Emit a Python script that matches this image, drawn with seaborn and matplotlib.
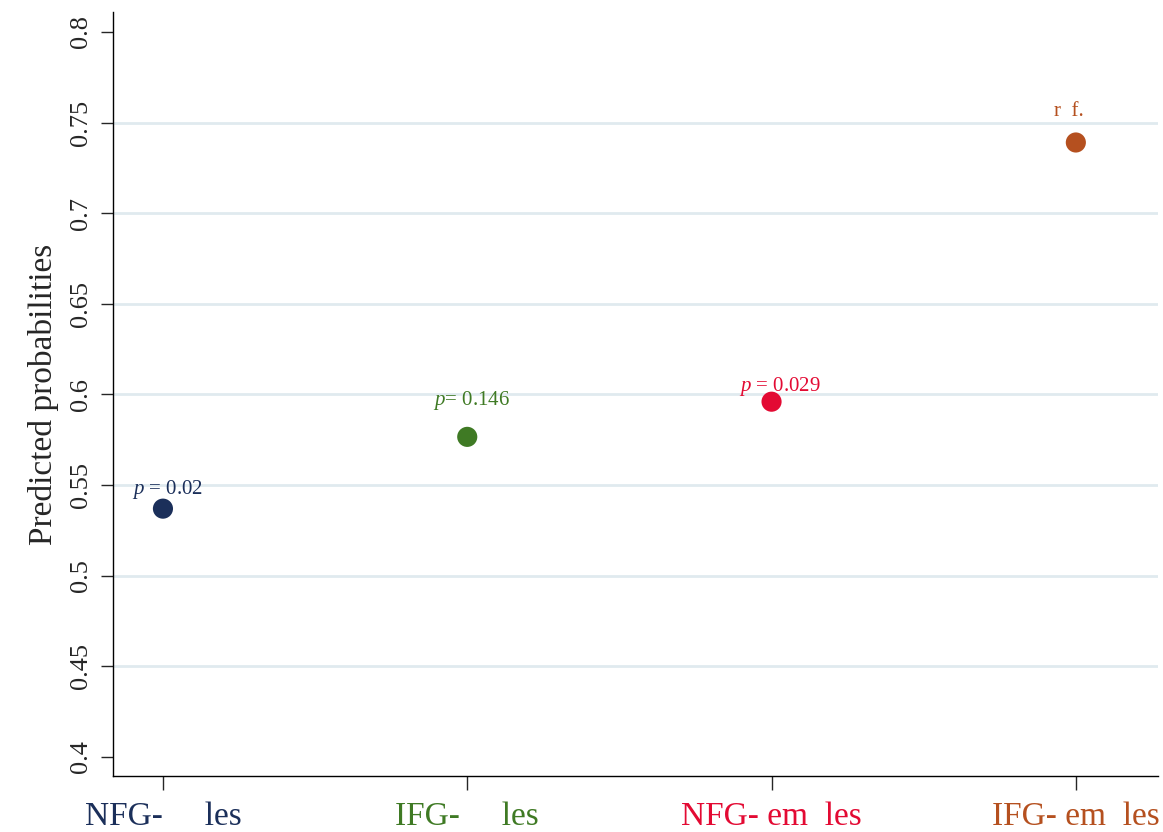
import matplotlib
matplotlib.use("Agg")
import matplotlib.pyplot as plt
import seaborn as sns
import pandas as pd

# data
groups = ["NFG-     les", "IFG-     les", "NFG- em  les", "IFG- em  les"]
probs = [0.537, 0.5766, 0.596, 0.739]
colors = ["#1b2f5a", "#3f7a24", "#e30a33", "#b5501f"]
notes = ["$p$ = 0.02", "$p$= 0.146", "$p$ = 0.029", "r  f."]
note_offsets = [(3, 14), (3, 26), (6, 11), (-5, 22)]
yticks = [0.4, 0.45, 0.5, 0.55, 0.6, 0.65, 0.7, 0.75, 0.8]
grid_vals = [0.45, 0.5, 0.55, 0.6, 0.65, 0.7, 0.75]

sns.set_style("white")
plt.rcParams["font.family"] = ["Liberation Serif", "DejaVu Serif"]
plt.rcParams["mathtext.fontset"] = "custom"
plt.rcParams["mathtext.it"] = "Liberation Serif:italic"

df = pd.DataFrame({"group": groups, "prob": probs})

fig = plt.figure(figsize=(11.63, 8.32), dpi=100)
ax = fig.add_axes([0.0972, 0.0673, 0.8985, 0.9183])

for g in grid_vals:
    ax.axhline(g, color="#e0eaef", lw=2, zorder=0)

sns.scatterplot(data=df, x="group", y="prob", hue="group", palette=colors,
                s=210, edgecolor=None, linewidth=0, legend=False, ax=ax, zorder=3)

for i, (p, txt) in enumerate(zip(probs, notes)):
    ax.annotate(txt, (i, p), xytext=note_offsets[i], textcoords="offset points",
                ha="center", va="center", fontsize=15, color=colors[i])

ax.set_xlim(-0.164, 3.27)
ax.set_ylim(0.3895, 0.811)
ax.set_yticks(yticks)
ax.set_yticklabels([f"{v:g}" for v in yticks], rotation=90, va="center", fontsize=19)
ax.set_xticks(range(len(groups)))
ax.set_xticklabels(groups, fontsize=24)
for lbl, c in zip(ax.get_xticklabels(), colors):
    lbl.set_color(c)

ax.tick_params(axis="y", direction="out", length=9, width=1, left=True, pad=6)
ax.tick_params(axis="x", direction="out", length=10, width=1, bottom=True, pad=8)
ax.set_xlabel("")
ax.set_ylabel("Predicted probabilities", fontsize=24, labelpad=8)

sns.despine(ax=ax)
for sp in ["left", "bottom"]:
    ax.spines[sp].set_color("black")
    ax.spines[sp].set_linewidth(1)

fig.savefig("out.png", dpi=100)
